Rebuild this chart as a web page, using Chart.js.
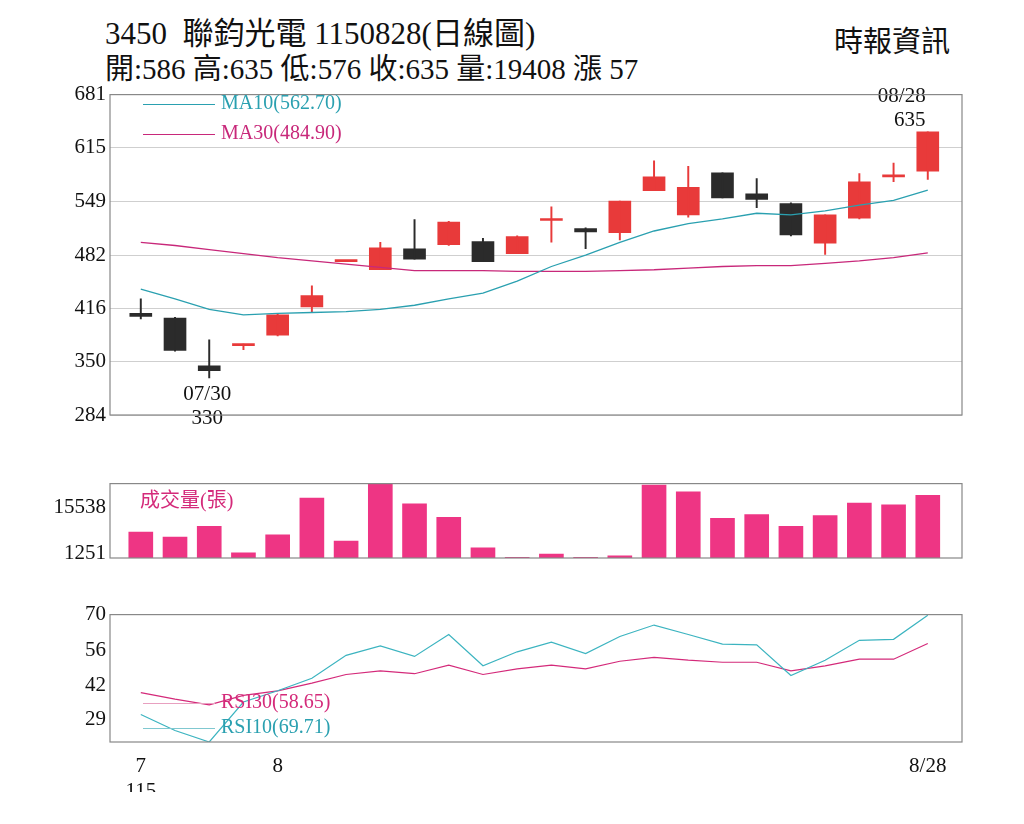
<!DOCTYPE html>
<html><head><meta charset="utf-8">
<script src="https://cdn.jsdelivr.net/npm/chart.js@4"></script>
<style>
body{margin:0;background:#fff;width:1024px;height:824px;position:relative;overflow:hidden;font-family:"Liberation Serif","DejaVu Serif","Noto Sans CJK TC",serif;}
.t{position:absolute;color:#111;white-space:nowrap}
canvas{position:absolute;left:0}
.lg{position:absolute;font-size:20px;white-space:nowrap}
.lg i{display:inline-block;width:72px;height:0;border-top:1px solid;vertical-align:middle;margin-right:6px}
</style></head><body>
<div class="t" style="left:105px;top:8px;font-size:31px">3450&nbsp; 聯鈞光電 1150828(日線圖)</div>
<div class="t" style="left:105px;top:45px;font-size:29px">開:586 高:635 低:576 收:635 量:19408 漲 57</div>
<div class="t" style="left:834px;top:18px;font-size:29px">時報資訊</div>
<canvas id="cp" width="1024" height="409" style="top:78px;width:1024px;height:409px"></canvas>
<canvas id="cv" width="1024" height="151" style="top:467px;width:1024px;height:151px"></canvas>
<canvas id="cr" width="1024" height="194" style="top:598px;width:1024px;height:194px"></canvas>
<div class="lg" style="left:143px;top:91px;color:#2aa0b0"><i style="border-color:#2aa0b0"></i>MA10(562.70)</div>
<div class="lg" style="left:143px;top:121px;color:#c8287a"><i style="border-color:#c8287a"></i>MA30(484.90)</div>
<div class="lg" style="left:140px;top:484px;color:#d42a7a">成交量(張)</div>
<div class="lg" style="left:143px;top:690px;color:#d42a7a"><i style="border-color:#e8a0c0"></i>RSI30(58.65)</div>
<div class="lg" style="left:143px;top:715px;color:#2aa0b0"><i style="border-color:#80c8d0"></i>RSI10(69.71)</div>
<script>
const dates=['7/28','7/29','7/30','7/31','8/3','8/4','8/5','8/6','8/7','8/10','8/11','8/12','8/13','8/14','8/17','8/18','8/19','8/20','8/21','8/24','8/25','8/26','8/27','8/28'];
const openV =[410,404,345,370,383,418,474,464,490,495,499,484,525,515,510,562,532,584,558,546,497,528,579,586];
const closeV=[406,364,339,371,408,432,474,491,477,523,474,505,527,511,549,579,566,553,551,507,532,573,580,635];
const highV =[428,405,377,372,410,444,475,498,526,524,503,506,542,516,549,599,592,584,577,547,532,583,596,635];
const lowV  =[403,363,330,365,382,412,474,464,477,494,474,484,498,490,501,562,529,553,541,506,483,527,573,576];
const ma10=[440,428,415,408,410,411,412,415,420,428,435,450,468,482,498,512,521,527,534,532,537,544,550,562.7];
const ma30=[498,494,489,484,479,475,471,467,463,463,463,462,462,462,463,464,466,468,469,469,472,475,479,484.9];
const volume=[8040,6470,9790,1570,7170,18530,5240,22900,16780,12590,3150,170,1220,170,700,22550,20450,12240,13460,9790,13110,16960,16430,19408];
const rsi10=[30.8,24.5,20,35.7,40.1,45,54,57.7,53.6,62.2,49.9,55.4,59.2,54.7,61.4,65.9,62.2,58.4,58.1,46.1,52.1,59.9,60.3,69.71];
const rsi30=[39.4,36.8,34.6,38.3,40.1,43.1,46.5,47.9,46.8,50.2,46.5,48.7,50.2,48.7,51.7,53.2,52.1,51.3,51.3,47.9,49.9,52.5,52.5,58.65];
const priceTicks=[284,350,416,482,549,615,681];
const volTicks=[1251,8395,15538,22682];
const rsiTicks=[29,42,56,70];
const xTicks=[[0,['7','115']],[4,'8'],[23,'8/28']];

const RED='#e83a3a',BLK='#2b2b2b',PINK='#ee3584';
const up=i=>closeV[i]>=openV[i];
const font={family:'"Liberation Serif","DejaVu Serif",serif',size:21};
function xScale(show){return {type:'linear',offset:false,min:-0.9,max:24,display:show,grid:{display:false},border:{display:false},
  afterBuildTicks:s=>{s.ticks=xTicks.map(t=>({value:t[0]}));},
  afterFit:s=>{s.height=50;},
  ticks:{color:'#111',font:font,autoSkip:false,maxRotation:0,padding:4,callback:v=>{const t=xTicks.find(a=>a[0]===v);return t?t[1]:'';}}};}
function yScale(min,max,ticks,grid){return {min:min,max:max,grid:{display:grid,color:'#cfcfcf',drawTicks:false},border:{display:false},
  afterBuildTicks:s=>{s.ticks=ticks.map(v=>({value:v}));},afterFit:s=>{s.width=110;},
  ticks:{color:'#111',font:font,padding:4,callback:v=>v}};}
const frame={id:'frame',afterDraw(c){const a=c.chartArea,x=c.ctx;x.save();x.strokeStyle='#888';x.lineWidth=1.2;x.strokeRect(a.left,a.top,a.right-a.left,a.bottom-a.top);x.restore();}};
const base=(pad)=>({responsive:false,maintainAspectRatio:false,animation:false,devicePixelRatio:1,layout:{padding:pad},plugins:{legend:{display:false},tooltip:{enabled:false}}});
const pts=a=>a.map((v,i)=>({x:i,y:v}));

const notes={id:'notes',afterDatasetsDraw(c){const x=c.ctx,sx=c.scales.x,sy=c.scales.y;x.save();x.fillStyle='#111';x.font='21px "Liberation Serif",serif';x.textAlign='center';
  const hi=highV.indexOf(Math.max(...highV)),lo=lowV.indexOf(Math.min(...lowV));
  x.fillText(dates[hi].replace(/^(\d)\//,'0$1/'),sx.getPixelForValue(hi)-26,sy.getPixelForValue(highV[hi])-30);
  x.fillText(String(highV[hi]),sx.getPixelForValue(hi)-18,sy.getPixelForValue(highV[hi])-6);
  x.fillText(dates[lo].replace(/^(\d)\//,'0$1/'),sx.getPixelForValue(lo)-2,sy.getPixelForValue(lowV[lo])+22);
  x.fillText(String(lowV[lo]),sx.getPixelForValue(lo)-2,sy.getPixelForValue(lowV[lo])+46);
  x.restore();}};

new Chart(document.getElementById('cp'),{type:'bar',data:{datasets:[
 {type:'line',data:pts(ma10),borderColor:'#2aa0b0',borderWidth:1.3,pointRadius:0,tension:0},
 {type:'line',data:pts(ma30),borderColor:'#c8287a',borderWidth:1.3,pointRadius:0,tension:0},
 {data:dates.map((d,i)=>({x:i,y:[lowV[i],highV[i]]})),backgroundColor:dates.map((d,i)=>up(i)?RED:BLK),barThickness:1.3,grouped:false},
 {data:dates.map((d,i)=>({x:i,y:[openV[i],closeV[i]]})),backgroundColor:dates.map((d,i)=>up(i)?RED:BLK),barThickness:22,minBarLength:2,grouped:false}
]},options:Object.assign(base({left:0,right:62,top:10,bottom:22}),{scales:{x:xScale(false),y:yScale(284,681,priceTicks,true)}}),plugins:[frame,notes]});

new Chart(document.getElementById('cv'),{type:'bar',data:{datasets:[
 {data:pts(volume),backgroundColor:PINK,barThickness:24}
]},options:Object.assign(base({left:0,right:62,top:10,bottom:10}),{scales:{x:xScale(false),y:yScale(0,23000,volTicks,false)}}),plugins:[frame]});

new Chart(document.getElementById('cr'),{type:'line',data:{datasets:[
 {data:pts(rsi10),borderColor:'#3cb4c0',borderWidth:1.2,pointRadius:0,tension:0},
 {data:pts(rsi30),borderColor:'#d42a7a',borderWidth:1.2,pointRadius:0,tension:0}
]},options:Object.assign(base({left:0,right:62,top:10,bottom:0}),{scales:{x:xScale(true),y:yScale(20,70,rsiTicks,false)}}),plugins:[frame]});
</script></body></html>
